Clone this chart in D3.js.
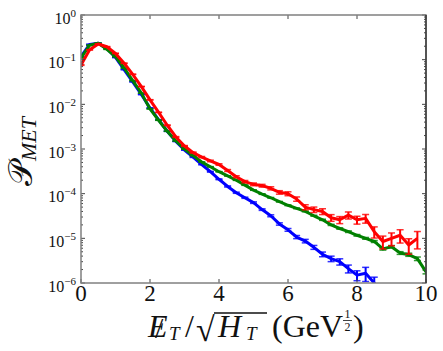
<!DOCTYPE html>
<html><head><meta charset="utf-8">
<script src="https://cdn.jsdelivr.net/npm/d3@7"></script>
<style>body{margin:0;background:#fff}svg{display:block}
text{font-family:"Liberation Serif","DejaVu Serif","Times New Roman",serif;}
</style>
</head><body><svg id="c" width="443" height="351"></svg>
<script>
const xBins = [0,0.25,0.5,0.75,1,1.25,1.5,1.75,2,2.25,2.5,2.75,3,3.25,3.5,3.75,4,4.25,4.5,4.75,5,5.25,5.5,5.75,6,6.25,6.5,6.75,7,7.25,7.5,7.75,8,8.25,8.5,8.75,9,9.25,9.5,9.75,10];
const blueVals = [1.17e-1,2.2e-1,2.34e-1,1.78e-1,1.12e-1,6.0e-2,3.2e-2,1.66e-2,8.3e-3,4.5e-3,2.5e-3,1.48e-3,9.5e-4,6.6e-4,4.5e-4,3.1e-4,2.1e-4,1.45e-4,1.05e-4,8.1e-5,6.3e-5,4.4e-5,3.2e-5,2.1e-5,1.55e-5,1.07e-5,8.7e-6,6.3e-6,4.4e-6,3.5e-6,3.0e-6,2.1e-6,1.5e-6,1.66e-6,1.0e-6,5.0e-7];
const blueErr = [0.01,0.01,0.01,0.01,0.01,0.01,0.01,0.01,0.01,0.01,0.01,0.01,0.01,0.02,0.02,0.02,0.02,0.03,0.03,0.03,0.04,0.04,0.05,0.06,0.07,0.08,0.09,0.1,0.12,0.14,0.16,0.2,0.25,0.35,0.35,0.4];
const greenVals = [1.1e-1,2.1e-1,2.34e-1,1.7e-1,1.17e-1,6.5e-2,3.4e-2,1.78e-2,7.9e-3,4.4e-3,2.5e-3,1.51e-3,1.0e-3,7.1e-4,5.1e-4,4.0e-4,3.1e-4,2.5e-4,2.0e-4,1.55e-4,1.2e-4,9.8e-5,8.1e-5,6.6e-5,5.5e-5,4.7e-5,4.0e-5,3.2e-5,2.6e-5,2.0e-5,1.66e-5,1.41e-5,1.17e-5,1.0e-5,8.5e-6,5.8e-6,6.5e-6,4.7e-6,4.3e-6,3.5e-6,1.78e-6];
const greenErr = [0.005,0.005,0.005,0.005,0.005,0.005,0.005,0.005,0.005,0.005,0.005,0.005,0.005,0.01,0.01,0.01,0.01,0.01,0.01,0.01,0.01,0.015,0.015,0.015,0.02,0.02,0.02,0.025,0.03,0.03,0.035,0.04,0.04,0.045,0.05,0.06,0.06,0.07,0.08,0.09,0.1];
const redVals = [7.6e-2,1.66e-1,2.24e-1,1.95e-1,1.38e-1,8.3e-2,4.7e-2,2.5e-2,1.26e-2,6.6e-3,3.4e-3,1.86e-3,1.17e-3,8.3e-4,6.6e-4,5.4e-4,4.5e-4,3.3e-4,2.4e-4,1.86e-4,1.62e-4,1.51e-4,1.32e-4,1.07e-4,1.0e-4,7.6e-5,5.0e-5,4.4e-5,4.0e-5,2.9e-5,2.6e-5,3.3e-5,2.6e-5,2.8e-5,1.41e-5,8.5e-6,1.0e-5,1.17e-5,7.1e-6,1.0e-5];
const redErr = [0.02,0.01,0.01,0.01,0.01,0.01,0.01,0.01,0.01,0.01,0.015,0.02,0.02,0.03,0.03,0.04,0.04,0.05,0.05,0.06,0.07,0.07,0.08,0.09,0.1,0.11,0.13,0.14,0.15,0.17,0.18,0.18,0.2,0.22,0.28,0.32,0.32,0.33,0.38,0.42];
const xTicks = [0,2,4,6,8,10];
const yExps = [0,-1,-2,-3,-4,-5,-6];
const series = [
  {vals: blueVals, err: blueErr, color: '#0000ff'},
  {vals: greenVals, err: greenErr, color: '#008000'},
  {vals: redVals, err: redErr, color: '#ff0000'}
];

const svg = d3.select('#c');
const x = d3.scaleLinear().domain([0,10]).range([81,426]);
const y = d3.scaleLog().domain([1e-6,1]).range([283,15]);
const X0=x.range()[0], X1=x.range()[1], Y0=y.range()[0], Y1=y.range()[1];

svg.append('defs').append('clipPath').attr('id','clip')
  .append('rect').attr('x',X0).attr('y',Y1).attr('width',X1-X0).attr('height',Y0-Y1);

const plot = svg.append('g').attr('clip-path','url(#clip)');
series.forEach(s => {
  const g = plot.append('g');
  const line = d3.line().x((d,i)=>x(xBins[i])).y(d=>y(d));
  g.append('path').datum(s.vals).attr('d',line).attr('fill','none')
    .attr('stroke',s.color).attr('stroke-width',3).attr('stroke-linejoin','round');
  s.vals.forEach((v,i)=>{
    const e = s.err[i]*v;
    const cx = x(xBins[i]);
    const yl = y(Math.max(v-e,1e-9)), yh = y(v+e);
    g.append('line').attr('x1',cx).attr('x2',cx).attr('y1',yl).attr('y2',yh)
      .attr('stroke',s.color).attr('stroke-width',2);
    [yl,yh].forEach(yy=>g.append('line').attr('x1',cx-3.5).attr('x2',cx+3.5).attr('y1',yy).attr('y2',yy)
      .attr('stroke',s.color).attr('stroke-width',1.5).attr('opacity',0.8));
  });
});

// ticks
const tk = svg.append('g').attr('stroke','#444').attr('stroke-width',1);
xTicks.forEach(t=>{
  tk.append('line').attr('x1',x(t)).attr('x2',x(t)).attr('y1',Y0).attr('y2',Y0-4);
  tk.append('line').attr('x1',x(t)).attr('x2',x(t)).attr('y1',Y1).attr('y2',Y1+4);
});
yExps.forEach(e=>{
  const v = Math.pow(10,e);
  tk.append('line').attr('x1',X0).attr('x2',X0+4).attr('y1',y(v)).attr('y2',y(v));
  tk.append('line').attr('x1',X1).attr('x2',X1-4).attr('y1',y(v)).attr('y2',y(v));
  if (e>-6) for (let k=2;k<10;k++){
    const vv = v*k/10;
    tk.append('line').attr('x1',X0).attr('x2',X0+2).attr('y1',y(vv)).attr('y2',y(vv));
    tk.append('line').attr('x1',X1).attr('x2',X1-2).attr('y1',y(vv)).attr('y2',y(vv));
  }
});

// frame
svg.append('rect').attr('x',X0).attr('y',Y1).attr('width',X1-X0).attr('height',Y0-Y1)
  .attr('fill','none').attr('stroke','#808080').attr('stroke-width',1.5);
svg.append('line').attr('x1',X1).attr('x2',X1).attr('y1',Y1).attr('y2',Y0)
  .attr('stroke','#222').attr('stroke-width',1.2);

// y tick labels
yExps.forEach(e=>{
  const t = svg.append('text').attr('x',76).attr('y',y(Math.pow(10,e))+8.5)
    .attr('text-anchor','end').attr('font-size',16).attr('fill','#111');
  t.append('tspan').text('10');
  t.append('tspan').attr('dy',-7).attr('font-size',11).text(e===0?'0':'\u2212'+(-e));
});
// x tick labels
xTicks.forEach(t=>{
  svg.append('text').attr('x',x(t)).attr('y',301).attr('text-anchor','middle')
    .attr('font-size',23).attr('fill','#111').text(t);
});

// y axis label
const yl = svg.append('text').attr('transform','translate(32,186) rotate(-90)').attr('fill','#111');
yl.append('tspan').attr('font-size',34).text('\u{1D4AB}');
yl.append('tspan').attr('font-size',22).attr('font-style','italic').attr('dy',4).text('MET');

// x axis label
const xl = svg.append('g').attr('fill','#111');
const et = xl.append('text').attr('x',148).attr('y',337).attr('font-size',32);
et.append('tspan').attr('font-style','italic').text('E');
et.append('tspan').attr('dx',-12.5).attr('dy',1).attr('font-size',30).text('/');
xl.append('text').attr('x',169).attr('y',340).attr('font-size',19).attr('font-style','italic').text('T');
xl.append('text').attr('x',185).attr('y',337).attr('font-size',32).text('/');
xl.append('text').attr('x',196).attr('y',341).attr('font-size',34).text('\u221A');
xl.append('line').attr('x1',214).attr('x2',267).attr('y1',313).attr('y2',313).attr('stroke','#111').attr('stroke-width',1.3);
xl.append('text').attr('x',218).attr('y',337).attr('font-size',32).attr('font-style','italic').text('H');
xl.append('text').attr('x',246).attr('y',340).attr('font-size',19).attr('font-style','italic').text('T');
xl.append('text').attr('x',272).attr('y',337).attr('font-size',32).text('(GeV');
xl.append('text').attr('x',347.5).attr('y',318).attr('font-size',12).attr('text-anchor','middle').text('1');
xl.append('line').attr('x1',343).attr('x2',352).attr('y1',320.5).attr('y2',320.5).attr('stroke','#111').attr('stroke-width',0.8);
xl.append('text').attr('x',347.5).attr('y',331).attr('font-size',12).attr('text-anchor','middle').text('2');
xl.append('text').attr('x',353).attr('y',337).attr('font-size',32).text(')');
</script></body></html>
